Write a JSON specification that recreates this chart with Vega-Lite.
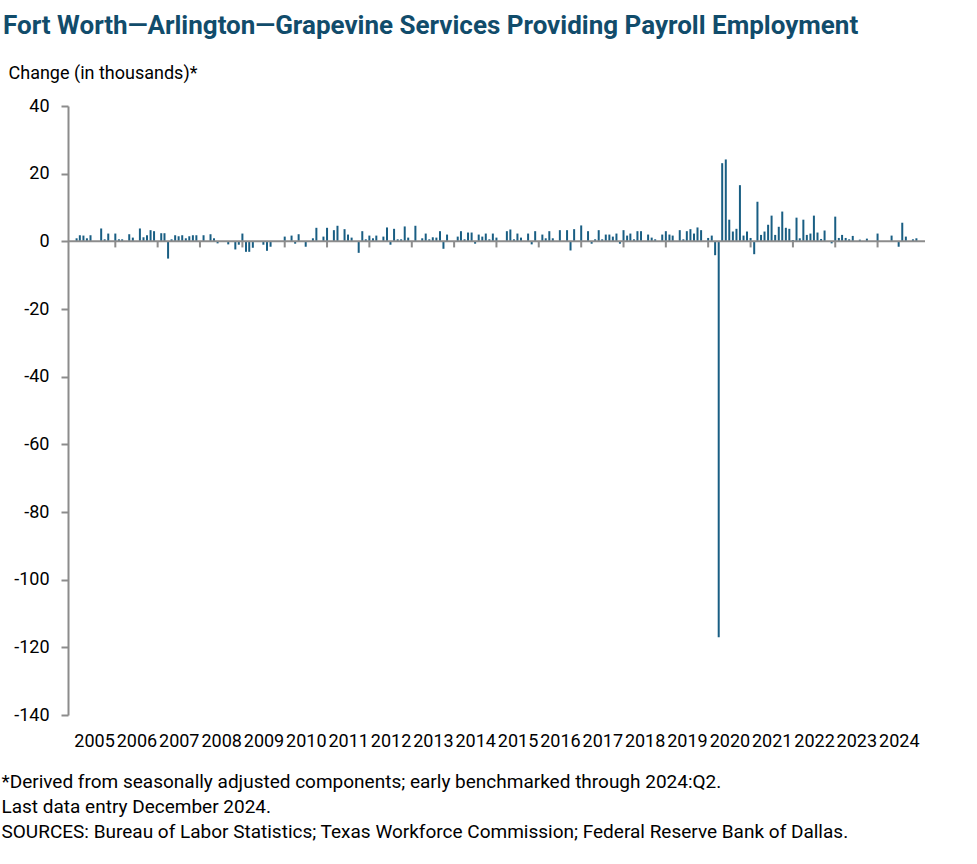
{
  "$schema": "https://vega.github.io/schema/vega-lite/v6.json",
  "width": 857,
  "height": 609,
  "autosize": {"type": "none"},
  "padding": {"left": 68, "top": 106, "right": 52, "bottom": 149},
  "background": "white",
  "config": {"view": {"stroke": null}, "font": "Roboto"},
  "title": {
    "text": "Fort Worth—Arlington—Grapevine Services Providing Payroll Employment",
    "anchor": "start",
    "frame": "group",
    "dx": -65,
    "offset": 4,
    "baseline": "alphabetic",
    "fontSize": 26,
    "fontWeight": "bold",
    "color": "#114c6b",
    "font": "Roboto"
  },
  "datasets": {
    "jobs": [
      {"d":"2005-01","v":0},{"d":"2005-02","v":0.9},{"d":"2005-03","v":1.8},{"d":"2005-04","v":1.7},{"d":"2005-05","v":0.9},{"d":"2005-06","v":1.8},{"d":"2005-07","v":0},{"d":"2005-08","v":0},{"d":"2005-09","v":3.8},{"d":"2005-10","v":0.6},{"d":"2005-11","v":2.3},{"d":"2005-12","v":0},
      {"d":"2006-01","v":2.3},{"d":"2006-02","v":0.6},{"d":"2006-03","v":0.6},{"d":"2006-04","v":0},{"d":"2006-05","v":2.1},{"d":"2006-06","v":1.1},{"d":"2006-07","v":0},{"d":"2006-08","v":3.8},{"d":"2006-09","v":1.2},{"d":"2006-10","v":1.8},{"d":"2006-11","v":3.3},{"d":"2006-12","v":3.0},
      {"d":"2007-01","v":0},{"d":"2007-02","v":2.4},{"d":"2007-03","v":2.4},{"d":"2007-04","v":-5.1},{"d":"2007-05","v":0.6},{"d":"2007-06","v":1.8},{"d":"2007-07","v":1.5},{"d":"2007-08","v":1.8},{"d":"2007-09","v":0.9},{"d":"2007-10","v":1.5},{"d":"2007-11","v":1.8},{"d":"2007-12","v":1.8},
      {"d":"2008-01","v":0},{"d":"2008-02","v":1.8},{"d":"2008-03","v":0},{"d":"2008-04","v":2.1},{"d":"2008-05","v":0.9},{"d":"2008-06","v":-0.6},{"d":"2008-07","v":0},{"d":"2008-08","v":0},{"d":"2008-09","v":-0.9},{"d":"2008-10","v":0},{"d":"2008-11","v":-2.4},{"d":"2008-12","v":-1.0},
      {"d":"2009-01","v":2.3},{"d":"2009-02","v":-3.1},{"d":"2009-03","v":-3.1},{"d":"2009-04","v":-1.9},{"d":"2009-05","v":0},{"d":"2009-06","v":0},{"d":"2009-07","v":-1.0},{"d":"2009-08","v":-2.8},{"d":"2009-09","v":-1.6},{"d":"2009-10","v":0},{"d":"2009-11","v":0},{"d":"2009-12","v":0},
      {"d":"2010-01","v":1.4},{"d":"2010-02","v":0},{"d":"2010-03","v":1.7},{"d":"2010-04","v":-0.7},{"d":"2010-05","v":2.1},{"d":"2010-06","v":0},{"d":"2010-07","v":-1.6},{"d":"2010-08","v":0},{"d":"2010-09","v":0.9},{"d":"2010-10","v":4.0},{"d":"2010-11","v":0},{"d":"2010-12","v":1.4},
      {"d":"2011-01","v":4.0},{"d":"2011-02","v":0},{"d":"2011-03","v":3.3},{"d":"2011-04","v":4.6},{"d":"2011-05","v":0},{"d":"2011-06","v":3.6},{"d":"2011-07","v":2.0},{"d":"2011-08","v":1.1},{"d":"2011-09","v":0},{"d":"2011-10","v":-3.4},{"d":"2011-11","v":3.0},{"d":"2011-12","v":0.6},
      {"d":"2012-01","v":1.7},{"d":"2012-02","v":0.9},{"d":"2012-03","v":1.7},{"d":"2012-04","v":0},{"d":"2012-05","v":1.4},{"d":"2012-06","v":4.1},{"d":"2012-07","v":-1.0},{"d":"2012-08","v":3.7},{"d":"2012-09","v":0.6},{"d":"2012-10","v":0.6},{"d":"2012-11","v":4.4},{"d":"2012-12","v":1.1},
      {"d":"2013-01","v":0},{"d":"2013-02","v":4.6},{"d":"2013-03","v":0},{"d":"2013-04","v":0.9},{"d":"2013-05","v":2.3},{"d":"2013-06","v":0.6},{"d":"2013-07","v":1.2},{"d":"2013-08","v":1.1},{"d":"2013-09","v":3.0},{"d":"2013-10","v":-2.2},{"d":"2013-11","v":2.0},{"d":"2013-12","v":0},
      {"d":"2014-01","v":0},{"d":"2014-02","v":1.4},{"d":"2014-03","v":3.0},{"d":"2014-04","v":0.6},{"d":"2014-05","v":2.6},{"d":"2014-06","v":2.6},{"d":"2014-07","v":-0.7},{"d":"2014-08","v":2.0},{"d":"2014-09","v":1.4},{"d":"2014-10","v":2.3},{"d":"2014-11","v":0.6},{"d":"2014-12","v":2.3},
      {"d":"2015-01","v":1.1},{"d":"2015-02","v":0},{"d":"2015-03","v":0},{"d":"2015-04","v":3.0},{"d":"2015-05","v":3.5},{"d":"2015-06","v":0.6},{"d":"2015-07","v":2.3},{"d":"2015-08","v":1.1},{"d":"2015-09","v":0},{"d":"2015-10","v":2.3},{"d":"2015-11","v":-0.9},{"d":"2015-12","v":3.0},
      {"d":"2016-01","v":0},{"d":"2016-02","v":2.0},{"d":"2016-03","v":0.9},{"d":"2016-04","v":3.0},{"d":"2016-05","v":0.9},{"d":"2016-06","v":0},{"d":"2016-07","v":3.3},{"d":"2016-08","v":0},{"d":"2016-09","v":3.3},{"d":"2016-10","v":-2.7},{"d":"2016-11","v":3.6},{"d":"2016-12","v":0},
      {"d":"2017-01","v":4.7},{"d":"2017-02","v":0},{"d":"2017-03","v":3.0},{"d":"2017-04","v":-0.7},{"d":"2017-05","v":0.6},{"d":"2017-06","v":3.3},{"d":"2017-07","v":0.6},{"d":"2017-08","v":2.0},{"d":"2017-09","v":2.0},{"d":"2017-10","v":1.4},{"d":"2017-11","v":2.3},{"d":"2017-12","v":-0.7},
      {"d":"2018-01","v":3.3},{"d":"2018-02","v":1.7},{"d":"2018-03","v":2.3},{"d":"2018-04","v":0.6},{"d":"2018-05","v":3.0},{"d":"2018-06","v":3.0},{"d":"2018-07","v":0},{"d":"2018-08","v":2.0},{"d":"2018-09","v":1.1},{"d":"2018-10","v":0.6},{"d":"2018-11","v":0},{"d":"2018-12","v":2.0},
      {"d":"2019-01","v":3.0},{"d":"2019-02","v":2.0},{"d":"2019-03","v":1.7},{"d":"2019-04","v":0},{"d":"2019-05","v":3.3},{"d":"2019-06","v":0.6},{"d":"2019-07","v":3.0},{"d":"2019-08","v":3.6},{"d":"2019-09","v":2.3},{"d":"2019-10","v":4.1},{"d":"2019-11","v":3.3},{"d":"2019-12","v":0},
      {"d":"2020-01","v":1.0},{"d":"2020-02","v":1.7},{"d":"2020-03","v":-4.1},{"d":"2020-04","v":-117.0},{"d":"2020-05","v":23.1},{"d":"2020-06","v":24.2},{"d":"2020-07","v":6.4},{"d":"2020-08","v":2.9},{"d":"2020-09","v":3.7},{"d":"2020-10","v":16.6},{"d":"2020-11","v":1.7},{"d":"2020-12","v":2.9},
      {"d":"2021-01","v":1.0},{"d":"2021-02","v":-3.8},{"d":"2021-03","v":11.7},{"d":"2021-04","v":1.9},{"d":"2021-05","v":2.9},{"d":"2021-06","v":4.9},{"d":"2021-07","v":7.6},{"d":"2021-08","v":1.9},{"d":"2021-09","v":4.3},{"d":"2021-10","v":8.8},{"d":"2021-11","v":4.0},{"d":"2021-12","v":3.7},
      {"d":"2022-01","v":0.4},{"d":"2022-02","v":7.0},{"d":"2022-03","v":0.9},{"d":"2022-04","v":6.4},{"d":"2022-05","v":1.9},{"d":"2022-06","v":2.3},{"d":"2022-07","v":7.6},{"d":"2022-08","v":2.6},{"d":"2022-09","v":0.7},{"d":"2022-10","v":3.2},{"d":"2022-11","v":0},{"d":"2022-12","v":-0.6},
      {"d":"2023-01","v":7.3},{"d":"2023-02","v":1.0},{"d":"2023-03","v":1.9},{"d":"2023-04","v":1.0},{"d":"2023-05","v":0.6},{"d":"2023-06","v":1.6},{"d":"2023-07","v":0},{"d":"2023-08","v":0.5},{"d":"2023-09","v":0},{"d":"2023-10","v":0.8},{"d":"2023-11","v":0},{"d":"2023-12","v":0},
      {"d":"2024-01","v":2.3},{"d":"2024-02","v":0},{"d":"2024-03","v":0},{"d":"2024-04","v":0},{"d":"2024-05","v":1.7},{"d":"2024-06","v":0},{"d":"2024-07","v":-1.6},{"d":"2024-08","v":5.5},{"d":"2024-09","v":1.4},{"d":"2024-10","v":0},{"d":"2024-11","v":0.6},{"d":"2024-12","v":0.9}
    ],
    "years": [
      {"d":"2006-01"},{"d":"2007-01"},{"d":"2008-01"},{"d":"2009-01"},{"d":"2010-01"},{"d":"2011-01"},{"d":"2012-01"},{"d":"2013-01"},{"d":"2014-01"},{"d":"2015-01"},{"d":"2016-01"},{"d":"2017-01"},{"d":"2018-01"},{"d":"2019-01"},{"d":"2020-01"},{"d":"2021-01"},{"d":"2022-01"},{"d":"2023-01"},{"d":"2024-01"}
    ],
    "zero": [{"z": 0}]
  },
  "layer": [
    {
      "data": {"name": "jobs"},
      "mark": {"type": "bar", "size": 2, "color": "#195e83"},
      "encoding": {
        "x": {
          "field": "d",
          "type": "temporal",
          "scale": {
            "type": "utc",
            "nice": false,
            "domain": [{"year": 2005, "month": 1, "date": 1, "utc": true}, {"year": 2025, "month": 1, "date": 1, "utc": true}]
          },
          "axis": {
            "title": [
              "*Derived from seasonally adjusted components; early benchmarked through 2024:Q2.",
              "Last data entry December 2024.",
              "SOURCES:  Bureau of Labor Statistics; Texas Workforce Commission;  Federal Reserve Bank of Dallas."
            ],
            "titleAnchor": "start",
            "titleAlign": "left",
            "titleBaseline": "alphabetic",
            "titleX": -67,
            "titleY": 72,
            "titleLineHeight": 25,
            "titleFontSize": 19,
            "titleFontWeight": "normal",
            "titleColor": "#000000",
            "titleFont": "Roboto",
            "domain": false,
            "ticks": false,
            "grid": false,
            "format": "%Y",
            "labelFontSize": 18,
            "labelColor": "#000000",
            "labelPadding": 17,
            "labelFont": "Roboto",
            "labelOverlap": false,
            "values": [
              {"year": 2005, "month": 7, "date": 2, "utc": true},
              {"year": 2006, "month": 7, "date": 2, "utc": true},
              {"year": 2007, "month": 7, "date": 2, "utc": true},
              {"year": 2008, "month": 7, "date": 2, "utc": true},
              {"year": 2009, "month": 7, "date": 2, "utc": true},
              {"year": 2010, "month": 7, "date": 2, "utc": true},
              {"year": 2011, "month": 7, "date": 2, "utc": true},
              {"year": 2012, "month": 7, "date": 2, "utc": true},
              {"year": 2013, "month": 7, "date": 2, "utc": true},
              {"year": 2014, "month": 7, "date": 2, "utc": true},
              {"year": 2015, "month": 7, "date": 2, "utc": true},
              {"year": 2016, "month": 7, "date": 2, "utc": true},
              {"year": 2017, "month": 7, "date": 2, "utc": true},
              {"year": 2018, "month": 7, "date": 2, "utc": true},
              {"year": 2019, "month": 7, "date": 2, "utc": true},
              {"year": 2020, "month": 7, "date": 2, "utc": true},
              {"year": 2021, "month": 7, "date": 2, "utc": true},
              {"year": 2022, "month": 7, "date": 2, "utc": true},
              {"year": 2023, "month": 7, "date": 2, "utc": true},
              {"year": 2024, "month": 7, "date": 2, "utc": true}
            ]
          }
        },
        "y": {
          "field": "v",
          "type": "quantitative",
          "scale": {"domain": [-140, 40], "nice": false, "zero": false},
          "axis": {
            "title": "Change (in thousands)*",
            "titleAngle": 0,
            "titleAlign": "left",
            "titleBaseline": "alphabetic",
            "titleX": -60,
            "titleY": -28,
            "titleFontSize": 18,
            "titleFontWeight": "normal",
            "titleColor": "#000000",
            "titleFont": "Roboto",
            "values": [40, 20, 0, -20, -40, -60, -80, -100, -120, -140],
            "labelExpr": "datum.value < 0 ? '-' + abs(datum.value) : '' + datum.value",
            "grid": false,
            "domainColor": "#8c8c8c",
            "domainWidth": 2,
            "tickColor": "#8c8c8c",
            "tickWidth": 2,
            "tickSize": 7,
            "labelPadding": 12,
            "labelFontSize": 18,
            "labelColor": "#000000",
            "labelFont": "Roboto"
          }
        }
      }
    },
    {
      "data": {"name": "years"},
      "mark": {"type": "rule", "color": "#8c8c8c", "strokeWidth": 2},
      "encoding": {
        "x": {"field": "d", "type": "temporal"},
        "y": {"datum": 0},
        "y2": {"datum": -1.8}
      }
    },
    {
      "data": {"name": "zero"},
      "mark": {"type": "rule", "color": "#8c8c8c", "strokeWidth": 2},
      "encoding": {
        "y": {"field": "z", "type": "quantitative"}
      }
    }
  ]
}
